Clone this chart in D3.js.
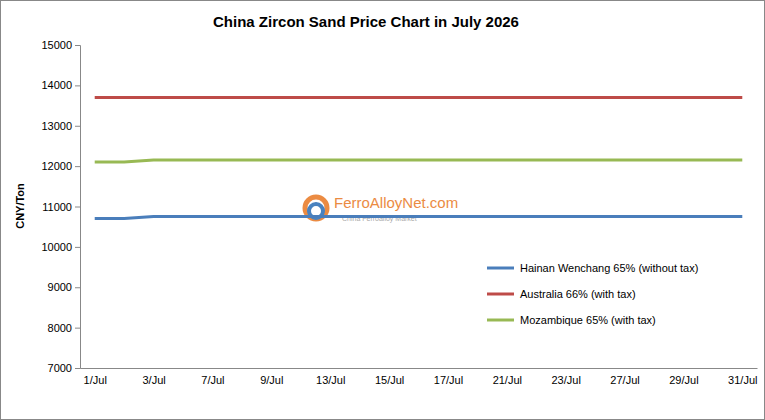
<!DOCTYPE html>
<html><head><meta charset="utf-8">
<script src="https://cdn.jsdelivr.net/npm/d3@7"></script>
<style>body{margin:0;background:#fff;font-family:"Liberation Sans",Arial,sans-serif;}</style>
</head><body><svg id="c" width="765" height="420"></svg>
<script>
var days = [1,2,3,6,7,8,9,10,13,14,15,16,17,20,21,22,23,24,27,28,29,30,31];
var hainan = [10700,10700,10750,10750,10750,10750,10750,10750,10750,10750,10750,10750,10750,10750,10750,10750,10750,10750,10750,10750,10750,10750,10750];
var australia = [13700,13700,13700,13700,13700,13700,13700,13700,13700,13700,13700,13700,13700,13700,13700,13700,13700,13700,13700,13700,13700,13700,13700];
var mozambique = [12100,12100,12150,12150,12150,12150,12150,12150,12150,12150,12150,12150,12150,12150,12150,12150,12150,12150,12150,12150,12150,12150,12150];
var yTicks = [7000,8000,9000,10000,11000,12000,13000,14000,15000];
var series = [
  {name:"Hainan Wenchang 65% (without tax)", values:hainan, color:"#4a7ebb"},
  {name:"Australia 66% (with tax)", values:australia, color:"#be4b48"},
  {name:"Mozambique 65% (with tax)", values:mozambique, color:"#98b954"}
];

var svg = d3.select("#c");
var pLeft = 80, pRight = 757, pTop = 45, pBottom = 368;
svg.append("rect").attr("x",0.5).attr("y",0.5).attr("width",764).attr("height",419)
  .attr("fill","#fff").attr("stroke","#888");

var x = d3.scalePoint().domain(days.map(String)).range([pLeft, pRight]).padding(0.5);
var y = d3.scaleLinear().domain([7000,15000]).range([pBottom, pTop]);

var ya = svg.append("g").attr("transform","translate("+pLeft+",0)")
  .call(d3.axisLeft(y).tickValues(yTicks).tickSize(5).tickFormat(d3.format("d")));
ya.select(".domain").attr("stroke","#888");
ya.selectAll("line").attr("stroke","#888");
ya.selectAll("text").attr("font-size",11).attr("fill","#000").attr("font-family","Liberation Sans, Arial");

var xa = svg.append("g").attr("transform","translate(0,"+pBottom+")")
  .call(d3.axisBottom(x).tickValues(days.filter(function(d,i){return i%2==0;}).map(String))
    .tickFormat(function(d){return d+"/Jul";}).tickSize(0).tickPadding(8));
xa.select(".domain").attr("stroke","#888");
xa.selectAll("text").attr("font-size",11).attr("fill","#000").attr("font-family","Liberation Sans, Arial");

svg.append("text").attr("x",366).attr("y",27).attr("text-anchor","middle")
  .attr("font-size",15).attr("font-weight","bold").text("China Zircon Sand Price Chart in July 2026");
svg.append("text").attr("transform","translate(24,206) rotate(-90)").attr("text-anchor","middle")
  .attr("font-size",11).attr("font-weight","bold").text("CNY/Ton");

// watermark
var wm = svg.append("g").attr("opacity",0.85);
wm.append("circle").attr("cx",316).attr("cy",208).attr("r",11).attr("fill","none").attr("stroke","#e87722").attr("stroke-width",5);
wm.append("circle").attr("cx",316).attr("cy",211).attr("r",7).attr("fill","none").attr("stroke","#2a6db5").attr("stroke-width",4);
wm.append("text").attr("x",334).attr("y",208).attr("font-size",15).attr("fill","#e87722").text("FerroAlloyNet.com");
wm.append("text").attr("x",342).attr("y",221).attr("font-size",7).attr("fill","#999").text("China Ferroalloy Market");

var line = d3.line().x(function(d,i){return x(String(days[i]));}).y(function(d){return y(d);});
series.forEach(function(s){
  svg.append("path").datum(s.values).attr("d",line).attr("fill","none")
    .attr("stroke",s.color).attr("stroke-width",3);
});

series.forEach(function(s,i){
  var ly = 268 + i*26;
  svg.append("line").attr("x1",487).attr("x2",514).attr("y1",ly).attr("y2",ly)
    .attr("stroke",s.color).attr("stroke-width",3);
  svg.append("text").attr("x",520).attr("y",ly+4).attr("font-size",11).text(s.name);
});
</script></body></html>
